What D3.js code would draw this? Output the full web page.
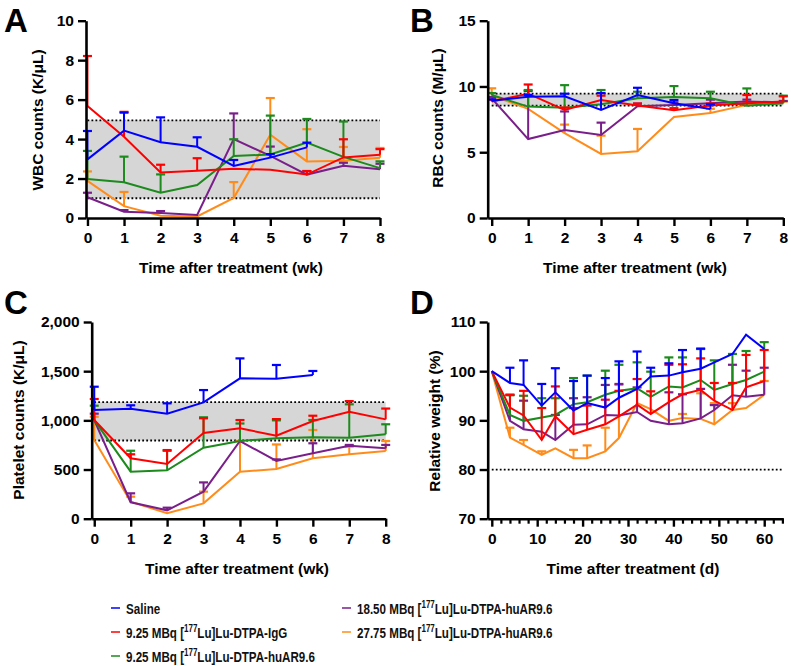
<!DOCTYPE html>
<html><head><meta charset="utf-8">
<script src="https://cdn.jsdelivr.net/npm/d3@7"></script>
<style>
body{margin:0;background:#fff;}
svg{display:block;font-family:"Liberation Sans",Arial,Helvetica,sans-serif;}
</style></head><body>
<svg id="chart" width="791" height="666"></svg>
<script>
// ---------- DATA ----------
const weeks = [0,1,2,3,4,5,6,7,8];
const days = [0,4,7,11,14,18,21,25,28,32,35,39,42,46,49,53,56,60];

const groups = ["Saline","9.25 MBq IgG","9.25 MBq huAR9.6","18.50 MBq huAR9.6","27.75 MBq huAR9.6"];
const groupColors = ["#0000ff","#ff0000","#1c8a1c","#7a1f8a","#ff8c1a"];

// WBC (K/uL): mean and top of error bar
const wbc_saline = [2.97,4.43,3.84,3.61,2.64,3.06,3.58];
const wbc_saline_top = [4.41,5.34,5.10,4.09,2.94,3.24,3.82];
const wbc_igg = [5.68,4.12,2.31,2.40,2.50,2.44,2.20,3.07,3.20];
const wbc_igg_top = [8.21,5.38,2.70,3.03,null,null,2.38,3.99,3.49];
const wbc_925 = [1.98,1.81,1.28,1.67,3.14,3.22,3.82,3.10,2.53];
const wbc_925_top = [3.40,3.11,2.21,null,3.99,5.19,5.02,4.89,2.87];
const wbc_1850 = [1.05,0.32,0.25,0.15,4.00,3.15,2.20,2.65,2.47];
const wbc_1850_top = [1.28,0.40,0.35,null,5.30,3.62,2.38,2.80,2.75];
const wbc_2775 = [1.88,0.60,0.12,0.08,1.02,4.22,2.87,2.90,3.05];
const wbc_2775_top = [2.36,1.32,null,null,1.82,6.08,4.50,3.60,3.55];
const wbc_band = [1.0,4.95];

// RBC (M/uL)
const rbc_saline = [8.92,9.22,9.25,8.21,9.35,8.72,8.29];
const rbc_saline_top = [9.02,9.35,9.45,9.50,9.90,8.97,8.64];
const rbc_igg = [8.85,9.45,8.21,8.97,8.55,8.20,8.55,8.72,8.85];
const rbc_igg_top = [9.00,10.15,8.40,9.30,8.70,8.35,8.70,9.35,9.25];
const rbc_925 = [9.35,8.47,8.39,8.65,9.10,9.20,9.10,8.54,8.72];
const rbc_925_top = [9.50,9.73,10.10,9.73,9.60,10.03,9.60,9.85,9.30];
const rbc_1850 = [9.10,6.00,6.69,6.31,8.50,8.60,8.72,8.85,8.80];
const rbc_1850_top = [9.20,9.65,8.10,7.25,8.70,8.80,9.00,9.00,8.90];
const rbc_2775 = [9.30,8.30,6.46,4.87,5.07,7.68,7.98,8.60,8.75];
const rbc_2775_top = [9.86,null,7.10,6.26,6.77,null,8.30,8.70,8.85];
const rbc_band = [8.55,9.45];

// Platelets (K/uL)
const plt_saline = [1105,1119,1068,1183,1427,1424,1461];
const plt_saline_top = [1342,1153,1173,1308,1630,1563,1502];
const plt_igg = [1003,614,556,871,919,844,993,1088,1010];
const plt_igg_top = [1217,655,698,1021,1003,1013,1047,1196,1120];
const plt_925 = [1003,478,492,722,790,817,827,824,858];
const plt_925_top = [1149,691,690,1031,968,1000,1004,1163,960];
const plt_1850 = [1003,167,85,275,790,587,665,742,716];
const plt_1850_top = [1068,258,112,369,null,603,767,750,750];
const plt_2775 = [800,173,55,156,478,505,614,655,688];
const plt_2775_top = [1037,224,null,275,790,755,902,733,790];
const plt_band = [795,1185];

// Relative weight (%)
const wt_saline = [100,97.6,97.2,93.0,95.7,92.0,93.5,92.6,94.6,96.4,98.9,99.1,99.8,100.5,101.8,103.5,107.4,104.5];
const wt_saline_top = [null,100.7,102.2,97.4,100.6,98.0,99.1,98.6,102.0,104.0,100.7,101.6,104.3,104.6,null,null,null,null];
const wt_igg = [100,92.6,91.0,86.0,90.8,87.2,88.1,89.2,90.8,93.2,91.3,93.7,95.3,96.2,94.0,92.1,96.7,98.0];
const wt_igg_top = [null,95.2,96.0,92.5,96.9,92.5,93.0,94.2,96.0,98.4,95.9,101.3,101.4,102.6,97.6,97.6,103.3,104.3];
const wt_925 = [100,91.1,89.9,90.6,91.1,93.3,93.7,95.2,96.0,96.5,94.8,96.9,96.7,98.2,96.2,97.4,98.2,99.9];
const wt_925_top = [null,95.1,95.0,94.5,94.5,98.6,99.1,100.1,101.3,101.8,99.9,102.8,102.8,104.5,102.2,103.5,104.1,105.9];
const wt_1850 = [100,89.9,88.2,87.7,86.0,89.1,89.2,91.1,91.0,91.7,89.9,89.2,89.4,90.4,92.1,95.1,94.8,95.2];
const wt_1850_top = [null,95.2,94.0,null,91.1,94.5,94.7,97.2,97.4,96.7,null,95.7,95.3,96.4,93.1,101.3,100.1,100.7];
const wt_2775 = [100,86.5,85.0,83.0,84.3,82.3,82.3,83.7,86.4,93.5,92.3,89.9,90.5,90.3,89.2,92.1,92.5,95.2];
const wt_2775_top = [null,88.5,86.0,83.7,null,84.0,84.9,88.5,97.2,null,null,null,91.3,95.5,93.5,93.5,null,98.0];
const wt_threshold = 80;

// ---------- DRAW ----------
const svg = d3.select("#chart");
const FONT = '"Liberation Sans",Arial,sans-serif';

function panel(cfg){
  const g = svg.append("g");
  const x = d3.scaleLinear().domain(cfg.xDomain).range(cfg.xRange);
  const y = d3.scaleLinear().domain(cfg.yDomain).range(cfg.yRange);
  const x0 = cfg.xRange[0], yb = cfg.yRange[0];

  if (cfg.band){
    const xa = x(0), xe = x(cfg.bandEnd);
    g.append("rect").attr("x",xa).attr("width",xe-xa)
      .attr("y",y(cfg.band[1])).attr("height",y(cfg.band[0])-y(cfg.band[1]))
      .attr("fill","#d6d6d6");
    cfg.band.forEach(v=>{
      g.append("line").attr("x1",xa).attr("x2",xe).attr("y1",y(v)).attr("y2",y(v))
        .attr("stroke","#000").attr("stroke-width",1.8).attr("stroke-dasharray","1.8,2.2");
    });
  }
  if (cfg.threshold!=null){
    g.append("line").attr("x1",x(0)).attr("x2",cfg.xRange[1]).attr("y1",y(cfg.threshold)).attr("y2",y(cfg.threshold))
      .attr("stroke","#000").attr("stroke-width",1.8).attr("stroke-dasharray","1.8,2.2");
  }

  const order = [4,3,2,1,0];
  order.forEach(i=>{
    const vals = cfg.series[i], tops = cfg.tops[i], col = groupColors[i];
    const pts = vals.map((v,k)=>({x:cfg.xs[k], v, t:tops[k]}));
    pts.forEach(p=>{
      if (p.t!=null && p.t>p.v){
        g.append("line").attr("x1",x(p.x)).attr("x2",x(p.x)).attr("y1",y(p.v)).attr("y2",y(p.t))
          .attr("stroke",col).attr("stroke-width",2);
        g.append("line").attr("x1",x(p.x)-4.5).attr("x2",x(p.x)+4.5).attr("y1",y(p.t)).attr("y2",y(p.t))
          .attr("stroke",col).attr("stroke-width",2.2);
      }
    });
    g.append("path").datum(pts)
      .attr("d",d3.line().x(d=>x(d.x)).y(d=>y(d.v)))
      .attr("fill","none").attr("stroke",col).attr("stroke-width",2).attr("stroke-linejoin","miter");
  });

  const yAx = d3.axisLeft(y).tickValues(cfg.yTicks).tickSize(8).tickPadding(4).tickSizeOuter(0)
     .tickFormat(cfg.yFormat || d3.format("d"));
  const ya = g.append("g").attr("transform",`translate(${x0},0)`).call(yAx);
  const xAx = d3.axisBottom(x).tickValues(cfg.xTicks).tickSize(8).tickPadding(6).tickSizeOuter(0)
     .tickFormat(d3.format("d"));
  const xa = g.append("g").attr("transform",`translate(0,${yb})`).call(xAx);
  [ya,xa].forEach(a=>{
    a.select(".domain").attr("stroke","#000").attr("stroke-width",2.6);
    a.selectAll(".tick line").attr("stroke","#000").attr("stroke-width",2.4);
    a.selectAll(".tick text").attr("fill","#000").style("font-family",FONT)
      .style("font-size","15.5px").style("font-weight","bold");
  });
  if (cfg.minorTicks){
    const xm = d3.axisBottom(x).tickValues(cfg.minorTicks).tickSize(5).tickFormat("").tickSizeOuter(0);
    const m = g.append("g").attr("transform",`translate(0,${yb})`).call(xm);
    m.select(".domain").remove();
    m.selectAll(".tick line").attr("stroke","#000").attr("stroke-width",2.2);
  }

  g.append("text").attr("x",cfg.xTitle[0]).attr("y",cfg.xTitle[1]).attr("text-anchor","middle")
    .style("font-family",FONT).style("font-size","15.5px").style("font-weight","bold").text(cfg.xLabel);
  g.append("text").attr("transform",`translate(${cfg.yTitle[0]},${cfg.yTitle[1]}) rotate(-90)`)
    .attr("text-anchor","middle").attr("dy","0.35em")
    .style("font-family",FONT).style("font-size","15.5px").style("font-weight","bold").text(cfg.yLabel);
  g.append("text").attr("x",cfg.letter[0]).attr("y",cfg.letter[1])
    .style("font-family",FONT).style("font-size","33px").style("font-weight","bold").text(cfg.letter[2]);
}

panel({
  xDomain:[-0.04,8], xRange:[86,380], yDomain:[0,10], yRange:[218,20.7],
  xs:weeks, xTicks:weeks, yTicks:[0,2,4,6,8,10],
  series:[wbc_saline,wbc_igg,wbc_925,wbc_1850,wbc_2775],
  tops:[wbc_saline_top,wbc_igg_top,wbc_925_top,wbc_1850_top,wbc_2775_top],
  band:wbc_band, bandEnd:8,
  xLabel:"Time after treatment (wk)", xTitle:[231,273],
  yLabel:"WBC counts (K/μL)", yTitle:[38,120], letter:[4,32,"A"]
});
panel({
  xDomain:[-0.11,8], xRange:[487.7,783.3], yDomain:[0,15], yRange:[218,20.7],
  xs:weeks, xTicks:weeks, yTicks:[0,5,10,15],
  series:[rbc_saline,rbc_igg,rbc_925,rbc_1850,rbc_2775],
  tops:[rbc_saline_top,rbc_igg_top,rbc_925_top,rbc_1850_top,rbc_2775_top],
  band:rbc_band, bandEnd:8,
  xLabel:"Time after treatment (wk)", xTitle:[635,273],
  yLabel:"RBC counts (M/μL)", yTitle:[438,118], letter:[410,32,"B"]
});
panel({
  xDomain:[-0.07,8], xRange:[91.7,385.7], yDomain:[0,2000], yRange:[518.7,322],
  xs:weeks, xTicks:weeks, yTicks:[0,500,1000,1500,2000], yFormat:d3.format(","),
  series:[plt_saline,plt_igg,plt_925,plt_1850,plt_2775],
  tops:[plt_saline_top,plt_igg_top,plt_925_top,plt_1850_top,plt_2775_top],
  band:plt_band, bandEnd:8,
  xLabel:"Time after treatment (wk)", xTitle:[237,574],
  yLabel:"Platelet counts (K/μL)", yTitle:[19,420], letter:[4,314,"C"]
});
panel({
  xDomain:[-0.9,64.2], xRange:[487.7,783.3], yDomain:[70,110], yRange:[518.7,322],
  xs:days, xTicks:[0,10,20,30,40,50,60], minorTicks:d3.range(2,65,2).filter(d=>d%10!==0),
  yTicks:[70,80,90,100,110],
  series:[wt_saline,wt_igg,wt_925,wt_1850,wt_2775],
  tops:[wt_saline_top,wt_igg_top,wt_925_top,wt_1850_top,wt_2775_top],
  threshold:wt_threshold,
  xLabel:"Time after treatment (d)", xTitle:[633,574],
  yLabel:"Relative weight (%)", yTitle:[435,421], letter:[410,314,"D"]
});

// ---------- LEGEND ----------
const legendItems = [
  {i:0, pre:"Saline", sup:"", post:"", col:0, row:0},
  {i:1, pre:"9.25 MBq [", sup:"177", post:"Lu]Lu-DTPA-IgG", col:0, row:1},
  {i:2, pre:"9.25 MBq [", sup:"177", post:"Lu]Lu-DTPA-huAR9.6", col:0, row:2},
  {i:3, pre:"18.50 MBq [", sup:"177", post:"Lu]Lu-DTPA-huAR9.6", col:1, row:0},
  {i:4, pre:"27.75 MBq [", sup:"177", post:"Lu]Lu-DTPA-huAR9.6", col:1, row:1}
];
const legColX = [111,342], legRowY = [608,632,656];
const lg = svg.append("g");
legendItems.forEach(d=>{
  const lx = legColX[d.col], ly = legRowY[d.row];
  lg.append("line").attr("x1",lx).attr("x2",lx+9).attr("y1",ly).attr("y2",ly)
    .attr("stroke",groupColors[d.i]).attr("stroke-width",2).attr("stroke-opacity",0.75);
  const t = lg.append("text").attr("transform",`translate(${lx+15},${ly+5.5}) scale(0.8,1)`)
    .style("font-family",FONT)
    .style("font-size","14.5px").style("font-weight","bold").attr("fill","#111");
  t.append("tspan").text(d.pre);
  if (d.sup){
    t.append("tspan").attr("dy",-5.5).style("font-size","10px").text(d.sup);
    t.append("tspan").attr("dy",5.5).text(d.post);
  }
});
</script>
</body></html>
